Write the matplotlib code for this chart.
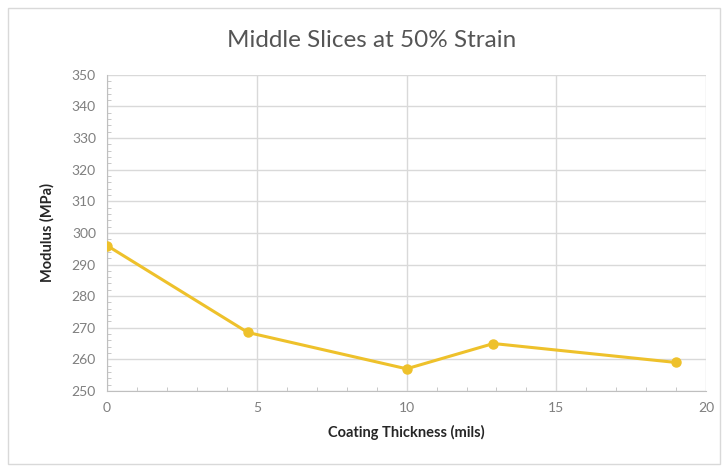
import matplotlib.pyplot as plt
from matplotlib.ticker import MultipleLocator
from matplotlib.patches import Rectangle

# valores
espessura = [0, 4.7, 10, 12.9, 19]
modulo = [296, 268.5, 257, 265, 259]

plt.rcParams['font.family'] = ['Lato', 'DejaVu Sans']

fig = plt.figure(figsize=(7.28, 4.71), dpi=100)
ax = fig.add_axes([0.147, 0.170, 0.823, 0.671])

cor = '#EEC12B'
ax.plot(espessura, modulo, color=cor, lw=2.2, marker='o', ms=6.5, zorder=3)

ax.set_xlim(0, 20)
ax.set_ylim(250, 350)
ax.xaxis.set_major_locator(MultipleLocator(5))
ax.xaxis.set_minor_locator(MultipleLocator(1))
ax.yaxis.set_major_locator(MultipleLocator(10))
ax.yaxis.set_minor_locator(MultipleLocator(2))

ax.grid(True, which='major', color='#d9d9d9', lw=1)
ax.set_axisbelow(True)
for lado in ['top', 'right']:
    ax.spines[lado].set_visible(False)
for lado in ['left', 'bottom']:
    ax.spines[lado].set_color('#bfbfbf')
ax.tick_params(which='major', length=0, colors='#7f7f7f', labelsize=10, pad=8)
ax.tick_params(which='minor', direction='in', length=3, color='#bfbfbf')

# titulo centrado na figura, como no Excel
fig.text(0.51, 0.915, 'Middle Slices at 50% Strain', fontsize=17.5, color='#555555',
         ha='center', va='center')
ax.set_xlabel('Coating Thickness (mils)', fontsize=10.5, fontweight='bold', color='#262626', labelpad=8)
ax.set_ylabel('Modulus (MPa)', fontsize=10.5, fontweight='bold', color='#262626', labelpad=12)

# borda da area do grafico
fig.patches.append(Rectangle((0.011, 0.015), 0.978, 0.968, transform=fig.transFigure,
                             fill=False, edgecolor='#d9d9d9', lw=1))

fig.savefig('out.png', dpi=100)
